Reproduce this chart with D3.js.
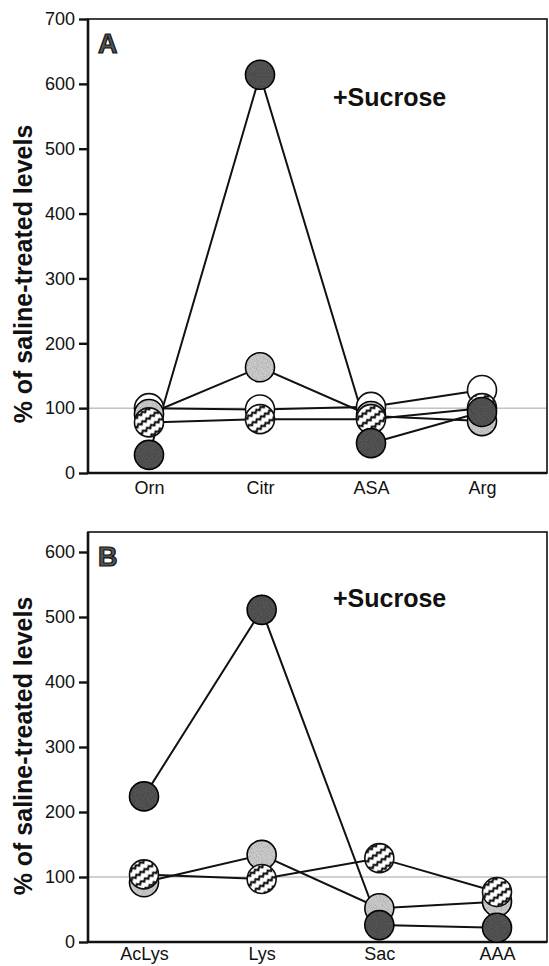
<!DOCTYPE html>
<html>
<head>
<meta charset="utf-8">
<script src="https://cdn.jsdelivr.net/npm/d3@7/dist/d3.min.js"></script>
<style>
  html, body { margin: 0; padding: 0; background: #fff; }
  svg { display: block; }
  text { font-family: "Liberation Sans", Arial, Helvetica, sans-serif; }
</style>
</head>
<body>
<svg id="chart" width="549" height="966"></svg>
<script>
// Panel A: urea-cycle intermediates
const catsA = ["Orn", "Citr", "ASA", "Arg"];
const whiteA = [100, 98, 102, 128];
const grayA = [91, 163, 88, 80];
const hatchA = [78, 83, 83, 100];
const darkA = [28, 614, 46, 94];
const ticksA = [0, 100, 200, 300, 400, 500, 600, 700];

// Panel B: lysine pathway intermediates
const catsB = ["AcLys", "Lys", "Sac", "AAA"];
const grayB = [92, 134, 52, 62];
const hatchB = [104, 97, 129, 77];
const darkB = [224, 511, 26, 22];
const ticksB = [0, 100, 200, 300, 400, 500, 600];

const yTitle = "% of saline-treated levels";
const condLabel = "+Sucrose";

const svg = d3.select("#chart");
const defs = svg.append("defs");

// zigzag hatching for the striped markers
const zz = defs.append("pattern")
  .attr("id", "zigzag")
  .attr("patternUnits", "userSpaceOnUse")
  .attr("width", 5).attr("height", 8)
  .attr("patternTransform", "rotate(-35)");
zz.append("rect").attr("width", 5).attr("height", 8).attr("fill", "#fff");
zz.append("path")
  .attr("d", "M-2.5,5 L0,2.6 L2.5,5 L5,2.6 L7.5,5")
  .attr("fill", "none").attr("stroke", "#111").attr("stroke-width", 2.1)
  .attr("stroke-linejoin", "miter");

// grain for the shaded markers
const grain = defs.append("filter").attr("id", "grain")
  .attr("x", "-20%").attr("y", "-20%").attr("width", "140%").attr("height", "140%");
grain.append("feTurbulence").attr("type", "fractalNoise")
  .attr("baseFrequency", 1.2).attr("numOctaves", 1).attr("seed", 3).attr("result", "n");
grain.append("feColorMatrix").attr("in", "n").attr("type", "matrix")
  .attr("values", "0 0 0 0 0  0 0 0 0 0  0 0 0 0 0  0 0 0 -0.9 0.55").attr("result", "a");
grain.append("feComposite").attr("in", "a").attr("in2", "SourceGraphic").attr("operator", "in").attr("result", "d");
const gm = grain.append("feMerge");
gm.append("feMergeNode").attr("in", "SourceGraphic");
gm.append("feMergeNode").attr("in", "d");

const styles = {
  white: { fill: "#ffffff", filter: null },
  gray:  { fill: "#cdcdcd", filter: "url(#grain)" },
  hatch: { fill: "url(#zigzag)", filter: null },
  dark:  { fill: "#555555", filter: "url(#grain)" }
};

function panel(cfg) {
  const { left, right, top, bottom, tickTop, cats, xRange, series, ticks, letter, titleY } = cfg;
  const g = svg.append("g");
  const y = d3.scaleLinear().domain([0, tickTop]).range([bottom, cfg.tickTopY]);
  const x = d3.scalePoint().domain(cats).range(xRange);

  // reference line at 100%
  g.append("line")
    .attr("x1", left).attr("x2", right)
    .attr("y1", y(100)).attr("y2", y(100))
    .attr("stroke", "#8a8a8a").attr("stroke-width", 0.8);

  // frame
  g.append("rect")
    .attr("x", left).attr("y", top)
    .attr("width", right - left).attr("height", bottom - top)
    .attr("fill", "none").attr("stroke", "#111").attr("stroke-width", 1.6);
  g.append("line").attr("x1", left).attr("x2", left).attr("y1", top).attr("y2", bottom)
    .attr("stroke", "#111").attr("stroke-width", 2.6);
  g.append("line").attr("x1", left).attr("x2", right).attr("y1", bottom).attr("y2", bottom)
    .attr("stroke", "#111").attr("stroke-width", 2.6);

  // y axis
  const yAxis = d3.axisLeft(y).tickValues(ticks).tickSize(9).tickPadding(4).tickFormat(d3.format("d"));
  const ya = g.append("g").attr("transform", `translate(${left},0)`).call(yAxis);
  ya.select(".domain").remove();
  ya.selectAll(".tick line").attr("stroke", "#111").attr("stroke-width", 2.4);
  ya.selectAll(".tick text")
    .attr("font-size", 18).attr("fill", "#111")
    .style("font-family", "'Liberation Sans', Arial, sans-serif");

  // x axis (labels only)
  const xAxis = d3.axisBottom(x).tickSize(0).tickPadding(cfg.xPad);
  const xa = g.append("g").attr("transform", `translate(0,${bottom})`).call(xAxis);
  xa.select(".domain").remove();
  xa.selectAll(".tick text")
    .attr("font-size", 18).attr("fill", "#111")
    .style("font-family", "'Liberation Sans', Arial, sans-serif");

  // connecting lines
  const line = d3.line().x((d, i) => x(cats[i])).y(d => y(d));
  series.forEach(s => {
    g.append("path").datum(s.values)
      .attr("d", line)
      .attr("fill", "none").attr("stroke", "#111").attr("stroke-width", 2);
  });

  // markers
  series.forEach(s => {
    const st = styles[s.kind];
    g.append("g").selectAll("circle").data(s.values).join("circle")
      .attr("cx", (d, i) => x(cats[i]))
      .attr("cy", d => y(d))
      .attr("r", 14.5)
      .attr("fill", st.fill)
      .attr("filter", st.filter)
      .attr("stroke", "#111").attr("stroke-width", 1.6);
  });

  // panel letter
  g.append("text")
    .attr("x", left + 10).attr("y", top + 34)
    .attr("font-size", 27).attr("font-weight", "bold")
    .attr("fill", "#555").attr("stroke", "#111").attr("stroke-width", 1.2)
    .style("font-family", "'Liberation Sans', Arial, sans-serif")
    .text(letter);

  // condition label
  g.append("text")
    .attr("x", 333).attr("y", cfg.condY)
    .attr("font-size", 25).attr("font-weight", "bold").attr("fill", "#111")
    .text(condLabel);

  // y axis title
  g.append("text")
    .attr("transform", `translate(32,${titleY}) rotate(-90)`)
    .attr("text-anchor", "middle")
    .attr("font-size", 25).attr("font-weight", "bold").attr("fill", "#111")
    .text(yTitle);
}

panel({
  left: 88, right: 547, top: 19, bottom: 473,
  tickTop: 700, tickTopY: 19,
  cats: catsA, xRange: [149, 482], xPad: 8,
  series: [
    { kind: "white", values: whiteA },
    { kind: "gray", values: grayA },
    { kind: "hatch", values: hatchA },
    { kind: "dark", values: darkA }
  ],
  ticks: ticksA, letter: "A", condY: 106, titleY: 274
});

panel({
  left: 88, right: 547, top: 532, bottom: 942,
  tickTop: 600, tickTopY: 552,
  cats: catsB, xRange: [144, 497], xPad: 5,
  series: [
    { kind: "gray", values: grayB },
    { kind: "hatch", values: hatchB },
    { kind: "dark", values: darkB }
  ],
  ticks: ticksB, letter: "B", condY: 607, titleY: 746
});
</script>
</body>
</html>
